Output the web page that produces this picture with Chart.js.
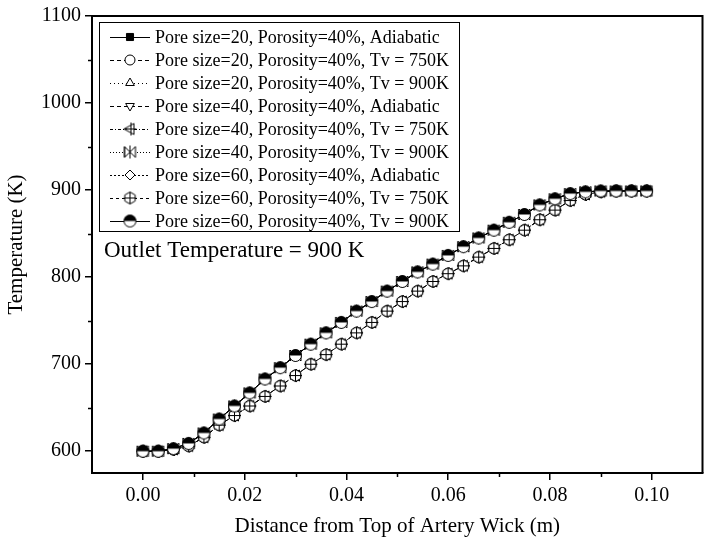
<!DOCTYPE html>
<html>
<head>
<meta charset="utf-8">
<script src="https://cdn.jsdelivr.net/npm/chart.js@4.4.1/dist/chart.umd.min.js"></script>
<style>
  html, body { margin: 0; padding: 0; background: #fff; }
  #wrap { width: 709px; height: 547px; }
</style>
</head>
<body>
<div id="wrap"><canvas id="tempChart" width="709" height="547"></canvas></div>
<script>
// === DATA ===
const distance = [0, 0.003, 0.006, 0.009, 0.012, 0.015, 0.018, 0.021, 0.024, 0.027, 0.030, 0.033,
  0.036, 0.039, 0.042, 0.045, 0.048, 0.051, 0.054, 0.057, 0.060, 0.063, 0.066, 0.069,
  0.072, 0.075, 0.078, 0.081, 0.084, 0.087, 0.090, 0.093, 0.096, 0.099];

// upper band (most cases sit on top of each other)
const tempUpper = [600, 600, 603, 609, 621, 637, 652, 667, 683, 696, 710, 723,
  736, 748, 761, 772, 784, 795, 806, 815, 825, 835, 845, 854,
  863, 872, 883, 890, 896, 898, 899, 899, 899, 899];
// lower band (Tv = 750K cases)
const tempLower = [600, 600, 602, 606, 616, 630, 641, 652, 663, 675, 687, 700,
  711, 723, 736, 748, 761, 772, 784, 795, 804, 813, 823, 833,
  843, 854, 866, 877, 888, 895, 898, 899, 899, 899];

const seriesNames = [
  'Pore size=20, Porosity=40%, Adiabatic',
  'Pore size=20, Porosity=40%, Tv = 750K',
  'Pore size=20, Porosity=40%, Tv = 900K',
  'Pore size=40, Porosity=40%, Adiabatic',
  'Pore size=40, Porosity=40%, Tv = 750K',
  'Pore size=40, Porosity=40%, Tv = 900K',
  'Pore size=60, Porosity=40%, Adiabatic',
  'Pore size=60, Porosity=40%, Tv = 750K',
  'Pore size=60, Porosity=40%, Tv = 900K'
];
const seriesTemps = [tempUpper, tempLower, tempUpper, tempUpper, tempLower, tempUpper, tempUpper, tempLower, tempUpper];

const xTicks = [0, 0.02, 0.04, 0.06, 0.08, 0.10];
const xMinor = [0.01, 0.03, 0.05, 0.07, 0.09];
const yTicks = [600, 700, 800, 900, 1000, 1100];
const yMinor = [650, 750, 850, 950, 1050];

const FONT = '"Liberation Serif", "Times New Roman", serif';

// === MARKERS ===
function makeMarker(draw) {
  const c = document.createElement('canvas');
  c.width = 15; c.height = 15;
  const g = c.getContext('2d');
  g.translate(7.5, 7.5);
  g.strokeStyle = '#000';
  g.fillStyle = '#fff';
  g.lineWidth = 1;
  draw(g);
  return c;
}

const leftTriBar = makeMarker(g => {
  g.beginPath(); g.moveTo(-6, 0); g.lineTo(4, -5.5); g.lineTo(4, 5.5); g.closePath();
  g.fill(); g.stroke();
  g.beginPath(); g.moveTo(1, -6.5); g.lineTo(1, 6.5); g.moveTo(-6, 0); g.lineTo(6.5, 0); g.stroke();
});
const bowTie = makeMarker(g => {
  g.beginPath(); g.moveTo(-5.5, -5.5); g.lineTo(5.5, 5.5); g.lineTo(5.5, -5.5); g.lineTo(-5.5, 5.5); g.closePath();
  g.fill(); g.stroke();
  g.beginPath(); g.moveTo(-5.5, -5.5); g.lineTo(-5.5, 5.5); g.moveTo(0, -6.5); g.lineTo(0, 6.5); g.stroke();
});
const hexPlus = makeMarker(g => {
  g.beginPath();
  for (let k = 0; k < 6; k++) {
    const a = Math.PI / 6 + k * Math.PI / 3;
    g.lineTo(6 * Math.cos(a), 6 * Math.sin(a));
  }
  g.closePath(); g.fill(); g.stroke();
  g.beginPath(); g.moveTo(-6, 0); g.lineTo(6, 0); g.moveTo(0, -6); g.lineTo(0, 6); g.stroke();
});
const halfCircle = makeMarker(g => {
  g.beginPath(); g.arc(0, 0, 6, 0, Math.PI * 2); g.fill();
  g.fillStyle = '#000';
  g.beginPath(); g.arc(0, 0, 6, Math.PI, 0); g.closePath(); g.fill();
  g.beginPath(); g.arc(0, 0, 6, 0, Math.PI * 2); g.stroke();
});

const styles = [
  { point: 'rect', rot: 0, fill: '#000', dash: [] },
  { point: 'circle', rot: 0, fill: '#fff', dash: [4, 3] },
  { point: 'triangle', rot: 0, fill: '#fff', dash: [1, 3] },
  { point: 'triangle', rot: 180, fill: '#fff', dash: [4, 3] },
  { point: leftTriBar, rot: 0, fill: '#fff', dash: [3, 2, 1, 2] },
  { point: bowTie, rot: 0, fill: '#fff', dash: [1, 2] },
  { point: 'rectRot', rot: 0, fill: '#fff', dash: [2, 2] },
  { point: hexPlus, rot: 0, fill: '#fff', dash: [3, 3] },
  { point: halfCircle, rot: 0, fill: '#000', dash: [] }
];

const datasets = seriesNames.map((name, i) => ({
  label: name,
  data: distance.map((d, k) => ({ x: d, y: seriesTemps[i][k] })),
  borderColor: '#000',
  borderWidth: 1,
  borderDash: styles[i].dash,
  backgroundColor: styles[i].fill,
  pointStyle: styles[i].point,
  pointRotation: styles[i].rot,
  pointRadius: 5.5,
  pointBorderWidth: 1,
  pointBorderColor: '#000',
  pointBackgroundColor: styles[i].fill,
  fill: false,
  tension: 0,
  order: seriesNames.length - 1 - i
}));

// === PLUGIN: frame, minor ticks, legend, note ===
const extras = {
  id: 'extras',
  afterDraw(chart) {
    const ctx = chart.ctx;
    const a = chart.chartArea;
    const sx = chart.scales.x, sy = chart.scales.y;
    ctx.save();
    ctx.strokeStyle = '#000';
    ctx.lineWidth = 2;
    ctx.beginPath();
    ctx.moveTo(a.left, a.top); ctx.lineTo(a.right, a.top); ctx.lineTo(a.right, a.bottom);
    ctx.stroke();

    ctx.lineWidth = 1.5;
    ctx.beginPath();
    xMinor.forEach(v => {
      const px = Math.round(sx.getPixelForValue(v)) + 0.5;
      ctx.moveTo(px, a.bottom); ctx.lineTo(px, a.bottom + 4);
    });
    yMinor.forEach(v => {
      const py = Math.round(sy.getPixelForValue(v)) + 0.5;
      ctx.moveTo(a.left, py); ctx.lineTo(a.left - 4, py);
    });
    ctx.stroke();

    // legend box
    ctx.lineWidth = 1;
    ctx.strokeRect(99.5, 22.5, 360, 209);
    ctx.font = '18px ' + FONT;
    ctx.fillStyle = '#000';
    ctx.textBaseline = 'middle';
    chart.data.datasets.forEach((ds, i) => {
      const y = 37 + i * 23;
      ctx.setLineDash(ds.borderDash);
      ctx.lineWidth = 1;
      ctx.beginPath(); ctx.moveTo(110, y + 0.5); ctx.lineTo(150, y + 0.5); ctx.stroke();
      ctx.setLineDash([]);
      ctx.fillStyle = ds.pointBackgroundColor;
      Chart.helpers.drawPoint(ctx, { pointStyle: ds.pointStyle, rotation: ds.pointRotation, radius: 5, borderWidth: 1 }, 130, y);
      ctx.fillStyle = '#000';
      ctx.fillText(ds.label, 155, y + 1);
    });

    ctx.font = '23px ' + FONT;
    ctx.fillText('Outlet Temperature = 900 K', 104, 251);
    ctx.restore();
  }
};

// === CHART ===
new Chart(document.getElementById('tempChart'), {
  type: 'line',
  data: { datasets },
  plugins: [extras],
  options: {
    responsive: false,
    animation: false,
    layout: { padding: { top: 13, right: 2, left: 0, bottom: 0 } },
    plugins: { legend: { display: false }, tooltip: { enabled: false } },
    scales: {
      x: {
        type: 'linear',
        min: -0.01,
        max: 0.11,
        afterBuildTicks: s => { s.ticks = xTicks.map(v => ({ value: v })); },
        afterFit: s => { s.height = 74; },
        ticks: {
          callback: v => Number(v).toFixed(2),
          color: '#000',
          font: { family: FONT, size: 20 },
          padding: 4,
          maxRotation: 0
        },
        grid: { drawOnChartArea: false, drawTicks: true, tickLength: 7, color: '#000', lineWidth: 1.5 },
        border: { display: true, color: '#000', width: 2 },
        title: {
          display: true,
          text: 'Distance from Top of Artery Wick (m)',
          color: '#000',
          font: { family: FONT, size: 21 },
          padding: { top: 0, bottom: 8 }
        }
      },
      y: {
        min: 575,
        max: 1100,
        afterBuildTicks: s => { s.ticks = yTicks.map(v => ({ value: v })); },
        afterFit: s => { s.width = 92; },
        ticks: {
          callback: v => String(v),
          color: '#000',
          font: { family: FONT, size: 20 },
          padding: 4
        },
        grid: { drawOnChartArea: false, drawTicks: true, tickLength: 7, color: '#000', lineWidth: 1.5 },
        border: { display: true, color: '#000', width: 2 },
        title: {
          display: true,
          text: 'Temperature (K)',
          color: '#000',
          font: { family: FONT, size: 21 },
          padding: { top: 4, bottom: 4 }
        }
      }
    }
  }
});
</script>
</body>
</html>
